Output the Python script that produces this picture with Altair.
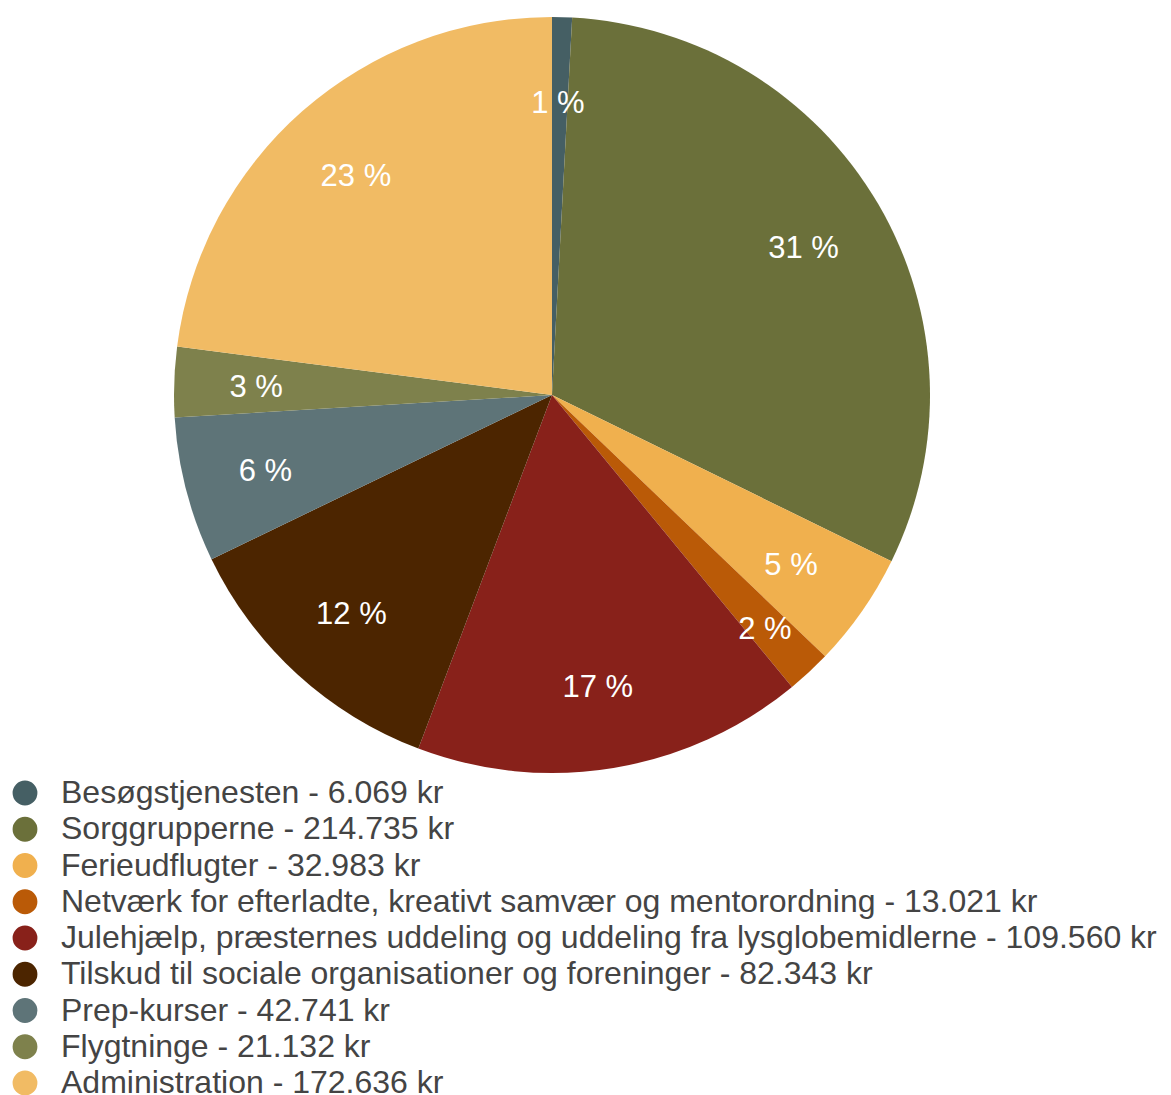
import altair as alt
import pandas as pd

names = [
    "Besøgstjenesten",
    "Sorggrupperne",
    "Ferieudflugter",
    "Netværk for efterladte, kreativt samvær og mentorordning",
    "Julehjælp, præsternes uddeling og uddeling fra lysglobemidlerne",
    "Tilskud til sociale organisationer og foreninger",
    "Prep-kurser",
    "Flygtninge",
    "Administration",
]
amounts = [6069, 214735, 32983, 13021, 109560, 82343, 42741, 21132, 172636]
# slice shares (percent)
shares = [0.85, 31.4, 4.9, 1.9, 16.7, 12.1, 6.2, 3.0, 22.95]
colors = ["#455F64", "#6B703A", "#F0B04E", "#BA5A07", "#88211A",
          "#4C2500", "#5E7478", "#7E814C", "#F1BB64"]


def fmt(n):
    return f"{n:,}".replace(",", ".")


labels = [f"{n} - {fmt(a)} kr" for n, a in zip(names, amounts)]
df = pd.DataFrame({
    "label": labels,
    "share": shares,
    "order": list(range(len(names))),
    "pct": [f"{round(s)} %" for s in shares],
})

FONT = "Liberation Sans"

base = alt.Chart(df).encode(
    theta=alt.Theta("share:Q", stack=True),
    order=alt.Order("order:Q"),
)

pie = base.mark_arc(outerRadius=378, stroke=None).encode(
    color=alt.Color(
        "label:N",
        sort=labels,
        scale=alt.Scale(domain=labels, range=colors),
        legend=alt.Legend(
            title=None,
            orient="none",
            legendX=1,
            legendY=769,
            direction="vertical",
            columns=1,
            symbolType="circle",
            symbolSize=616,
            symbolStrokeWidth=0,
            symbolOpacity=1,
            labelFontSize=32,
            labelFont=FONT,
            labelColor="#444444",
            labelOffset=20,
            labelLimit=2000,
            rowPadding=4.25,
            padding=0,
        ),
    )
)

text_main = base.mark_text(
    radius=294, fontSize=31, font=FONT, color="white", dx=-2, dy=3
).encode(
    text=alt.condition("datum.order == 3", alt.value(""), "pct:N")
)

text_small = base.mark_text(
    radius=316, fontSize=31, font=FONT, color="white", dx=-2, dy=3
).encode(
    text=alt.condition("datum.order == 3", "pct:N", alt.value(""))
)

chart = (pie + text_main + text_small).properties(
    width=1088, height=774, padding=0
).configure_view(stroke=None)

chart.save("out.html", embed_options={"renderer": "svg", "actions": False})
